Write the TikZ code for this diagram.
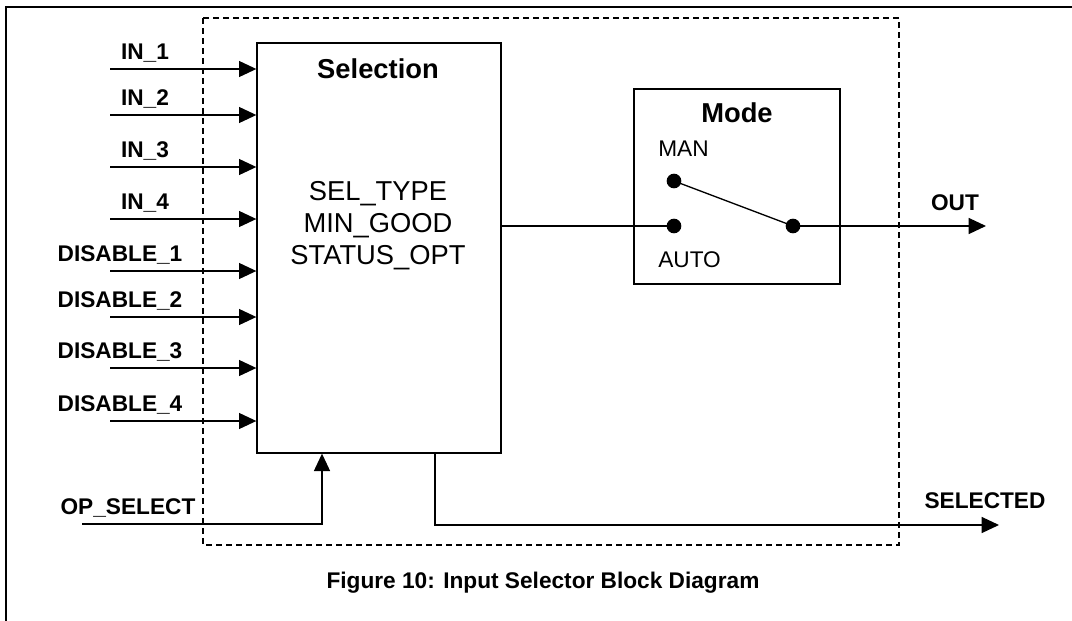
\documentclass[tikz,border=0pt]{standalone}
\usepackage{fontspec}
\setmainfont{Liberation Sans}
\usetikzlibrary{positioning, arrows.meta, calc}

\begin{document}
\begin{tikzpicture}[
    x=0.75pt, y=-0.75pt,
    block/.style={draw, line width=1pt, inner sep=0pt},
    sig/.style={-{Triangle[length=13pt, width=12pt]}, line width=1pt},
    wire/.style={line width=1pt},
    lbl/.style={font=\fontsize{17}{20}\selectfont\bfseries, inner sep=0pt},
    big/.style={font=\fontsize{20.5}{24}\selectfont, inner sep=0pt},
    contact/.style={circle, fill, inner sep=0pt, minimum size=11pt}
]
\useasboundingbox (0,0) rectangle (1072,621);

% outer frame and function block border
\draw[line width=1.4pt] (6,621) |- (1072,7);
\draw[line width=1pt, dash pattern=on 4.5pt off 3pt] (203,18) rectangle (899,545);

% Selection block
\node[block, minimum width=183pt, minimum height=307.5pt] (sel) at (379,248) {};
\node[big, font=\fontsize{20.5}{24}\selectfont\bfseries] (seltitle) at (378,69) {Selection};
\node[big, align=center] (params) at (378,226) {SEL\_TYPE\\MIN\_GOOD\\STATUS\_OPT};

% Mode block with switch
\node[block, minimum width=154.5pt, minimum height=146.25pt] (mode) at (737,186.5) {};
\node[big, font=\fontsize{20.5}{24}\selectfont\bfseries] (modetitle) at (737,113) {Mode};
\node[big, font=\fontsize{17}{20}\selectfont, anchor=west] (man) at (658,149) {MAN};
\node[big, font=\fontsize{17}{20}\selectfont, anchor=west] (auto) at (658,260) {AUTO};
\node[contact] (mandot) at (674,181) {};
\node[contact] (autodot) at (674,226) {};
\node[contact] (pivot) at (793,226) {};
\draw[wire] (mandot.center) -- (pivot.center);
\draw[wire] (sel.east |- autodot) -- (autodot.center);

% inputs
\foreach \nm/\txt/\yy/\lx in {in1/IN\_1/69/145, in2/IN\_2/115/145, in3/IN\_3/167/145, in4/IN\_4/219/145,
    dis1/DISABLE\_1/271/120, dis2/DISABLE\_2/317/120, dis3/DISABLE\_3/368/120, dis4/DISABLE\_4/421/120}{
  \coordinate (\nm) at (110,\yy);
  \node[lbl] (\nm lbl) at (\lx,\yy-16) {\txt};
  \draw[sig] (\nm) -- (\nm -| sel.west);
}

% operator select
\coordinate (opsel) at (82,524);
\node[lbl] (opsellbl) at (128,508) {OP\_SELECT};
\draw[sig] (opsel) -| ([xshift=-42.75pt]sel.south);

% outputs
\coordinate (outend) at (986,226);
\node[lbl] (outlbl) at (955,203) {OUT};
\draw[sig] (pivot.center) -- (outend);

\coordinate (selend) at (999,525);
\node[lbl] (sellbl) at (985,501) {SELECTED};
\draw[sig] ([xshift=42pt]sel.south) |- (selend);

% caption
\node[lbl] (caption) at (543,583) {Figure 10: Input Selector Block Diagram};
\end{tikzpicture}
\end{document}
